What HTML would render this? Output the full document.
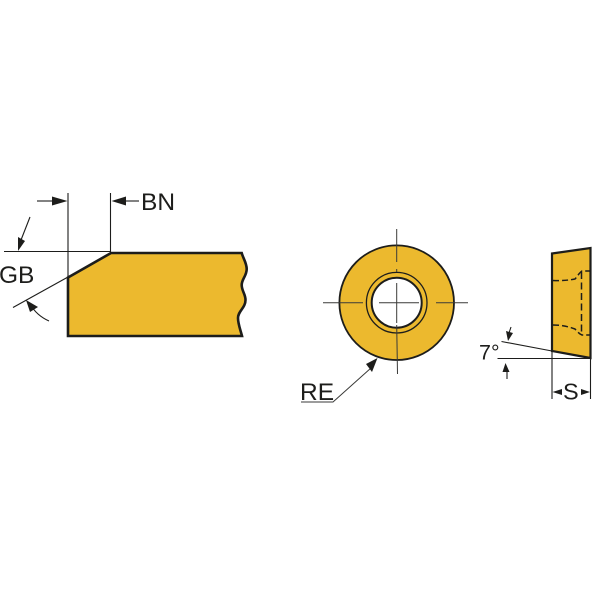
<!DOCTYPE html>
<html>
<head>
<meta charset="utf-8">
<style>
html,body{margin:0;padding:0;background:#fff;width:600px;height:600px;overflow:hidden}
svg{display:block}
text{font-family:"Liberation Sans",sans-serif;fill:#1d1d1b}
</style>
</head>
<body>
<svg width="600" height="600" viewBox="0 0 600 600" xmlns="http://www.w3.org/2000/svg">
<rect width="600" height="600" fill="#fff"/>

<!-- Left profile -->
<path d="M68 277.500L111 253H241.700C243 258 246.700 263 246.700 269C246.700 276 241.700 279 241.700 285C241.700 291 245.500 294 245.500 300C245.500 308 238 311 238 318C238 324 240.500 330 242 336H68Z" fill="#ecb92e" stroke="#1d1d1b" stroke-width="2.600" stroke-linejoin="miter"/>
<g stroke="#1d1d1b" stroke-width="1.100" fill="none">
<line x1="68" y1="193" x2="68" y2="336"/>
<line x1="110.500" y1="193" x2="110.500" y2="253"/>
<line x1="4" y1="251.500" x2="110" y2="251.500"/>
<line x1="13" y1="307.500" x2="68" y2="277"/>
<line x1="37" y1="201" x2="52" y2="201"/>
<line x1="126" y1="201" x2="139" y2="201"/>
<line x1="30" y1="217" x2="21" y2="240"/>
<path d="M49 321C40 317 34 311 30 304"/>
</g>
<g fill="#1d1d1b">
<polygon points="67.500,201 52,196.500 52,205.500"/>
<polygon points="111.500,201 126,196.500 126,205.500"/>
<polygon points="18,251 18,237 25,241"/>
<polygon points="26,300 38,307 30,312"/>
</g>
<text x="141" y="210" font-size="24.500">BN</text>
<text x="-1" y="283" font-size="24.500">GB</text>

<!-- Centre circle -->
<circle cx="396.700" cy="302.700" r="57.300" fill="#ecb92e" stroke="#1d1d1b" stroke-width="1.800"/>
<circle cx="396.700" cy="302.700" r="30.300" fill="none" stroke="#1d1d1b" stroke-width="1.300"/>
<circle cx="396.700" cy="302.700" r="25" fill="#fff" stroke="#1d1d1b" stroke-width="2"/>
<g stroke="#3a3a38" stroke-width="1" fill="none">
<line x1="396.700" y1="229" x2="396.700" y2="262"/>
<line x1="396.700" y1="269" x2="396.700" y2="272"/>
<line x1="396.700" y1="283" x2="396.700" y2="323"/>
<line x1="396.700" y1="325" x2="397.500" y2="374"/>
<line x1="323" y1="302.700" x2="363" y2="302.700"/>
<line x1="379" y1="302.700" x2="419" y2="302.700"/>
<line x1="436" y1="302.700" x2="468" y2="302.700"/>
<polyline points="301,402 333,402 371,368"/>
</g>
<polygon points="377.500,358 366,364 372,372" fill="#1d1d1b"/>
<text x="300" y="400" font-size="24.500">RE</text>

<!-- Right side view -->
<polygon points="552,253.500 590.500,248 590.500,358 552,351" fill="#ecb92e" stroke="#1d1d1b" stroke-width="2.200"/>
<g stroke="#1d1d1b" stroke-width="1.500" fill="none">
<path d="M553 280.500C562 281 570 280 575 279C577 277 579 273 582 271H590" stroke-dasharray="6 3"/>
<path d="M553 325C562 325 570 327 575 329C577 331 579 334 582 335H590" stroke-dasharray="6 3"/>
<line x1="581.500" y1="272" x2="581.500" y2="335" stroke-dasharray="7 3.500"/>
</g>
<g stroke="#1d1d1b" stroke-width="1.100" fill="none">
<line x1="501.500" y1="341.500" x2="552" y2="351"/>
<line x1="497.500" y1="358.500" x2="591" y2="358.500"/>
<line x1="552" y1="351" x2="552" y2="399"/>
<line x1="590.500" y1="358" x2="590.500" y2="399"/>
<line x1="511" y1="327" x2="509" y2="333"/>
<line x1="507" y1="368" x2="507" y2="379"/>
</g>
<g fill="#1d1d1b">
<polygon points="508,341 506,331 513,333"/>
<polygon points="505.500,363 502.500,372 509.500,372"/>
<polygon points="552.500,392 562,389 562,395"/>
<polygon points="590,392 581,389 581,395"/>
</g>
<text x="479" y="359.500" font-size="21.500">7°</text>
<text x="563" y="399.500" font-size="23.500">S</text>
</svg>
</body>
</html>
